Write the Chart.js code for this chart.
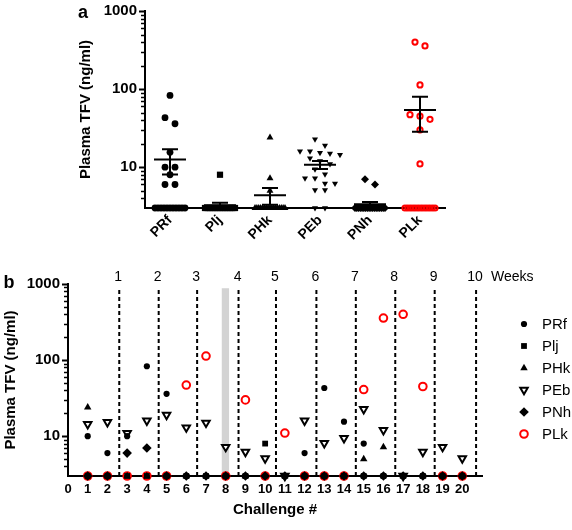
<!DOCTYPE html>
<html><head><meta charset="utf-8">
<script src="https://cdn.jsdelivr.net/npm/chart.js@4/dist/chart.umd.min.js"></script>
<style>
html,body{margin:0;padding:0;background:#fff;}
#wrap{position:relative;width:572px;height:530px;background:#fff;}
canvas{position:absolute;left:0;}
#ca{top:0;} #cb{top:250px;}
</style></head><body>
<div id="wrap"><canvas id="ca" width="572" height="250"></canvas><canvas id="cb" width="572" height="280"></canvas></div>
<script>
// ---------- data ----------
const animals = ['PRf', 'Plj', 'PHk', 'PEb', 'PNh', 'PLk'];
const challenges = [1,2,3,4,5,6,7,8,9,10,11,12,13,14,15,16,17,18,19,20];
const xTickLabels = [0,1,2,3,4,5,6,7,8,9,10,11,12,13,14,15,16,17,18,19,20];
const yTickLabels = [10, 100, 1000];
const weekLabels = ['1','2','3','4','5','6','7','8','9','10'];
const weekLinePos = [2.6, 4.6, 6.55, 8.65, 10.55, 12.6, 14.6, 16.6, 18.6, 20.7];
const LOQ = 3;      // below limit of quantitation plotted at axis
const PRf = [10, 6, 10, 83, 36, 3, 3, 3, 3, 3, 3, 6, 43, 15.5, 8, 3, 3, 3, 3, 3];
const Plj = [3, 3, 3, 3, 3, 3, 3, 3, 3, 8, 3, 3, 3, 3, 3, 3, 3, 3, 3, 3];
const PHk = [24, 3, 3, 3, 3, 3, 3, 3, 3, 3, 3, 3, 3, 3, 5, 7.2, 3, 3, 3, 3];
const PEb = [14.4, 15.3, 11, 16, 19, 13, 15, 7.2, 6.2, 5.1, 3, 16, 8.1, 9.4, 22.7, 12, 3, 6.2, 7.2, 5.1];
const PNh = [3, 3, 6, 7, 3, 3, 3, 3, 3, 3, 3, 3, 3, 3, 3, 3, 3, 3, 3, 3];
const PLk = [3, 3, 3, 3, 3, 47, 113, 3, 30, 3, 11, 3, 3, 3, 41, 357, 400, 45, 3, 3];
const seriesValues = [PRf, Plj, PHk, PEb, PNh, PLk];

// ---------- styles ----------
const FONT = 'Arial, "Liberation Sans", Helvetica, sans-serif';
Chart.defaults.font.family = FONT;
Chart.defaults.color = '#000';
const RED = '#ff0000';
const styleA = [
  {ps:'circle', r:3.4, rot:0, fill:'#000', stroke:'#000', bw:0},
  {ps:'rect', r:4.4, rot:0, fill:'#000', stroke:'#000', bw:0},
  {ps:'triangle', r:4.0, rot:0, fill:'#000', stroke:'#000', bw:0},
  {ps:'triangle', r:3.5, rot:180, fill:'#000', stroke:'#000', bw:0},
  {ps:'rectRot', r:4.0, rot:0, fill:'#000', stroke:'#000', bw:0},
  {ps:'circle', r:2.6, rot:0, fill:'rgba(0,0,0,0)', stroke:RED, bw:2}
];
const styleB = [
  {ps:'circle', r:3.1, rot:0, fill:'#000', stroke:'#000', bw:0},
  {ps:'rect', r:4.1, rot:0, fill:'#000', stroke:'#000', bw:0},
  {ps:'triangle', r:4.3, rot:0, fill:'#000', stroke:'#000', bw:0},
  {ps:'triangle', r:4.3, rot:180, fill:'#fff', stroke:'#000', bw:2},
  {ps:'rectRot', r:4.8, rot:0, fill:'#000', stroke:'#000', bw:0},
  {ps:'circle', r:3.8, rot:0, fill:'rgba(0,0,0,0)', stroke:RED, bw:2}
];
const drawOrderB = [2, 3, 4, 5, 1, 6]; // lower = on top

// ---------- helpers ----------
function meanSem(arr){
  const n = arr.length;
  const m = arr.reduce((a,b)=>a+b,0)/n;
  const sd = Math.sqrt(arr.reduce((a,b)=>a+(b-m)*(b-m),0)/(n-1));
  return {m, s: sd/Math.sqrt(n)};
}
// scatter-dot (column) layout for panel a
function swarm(values, idx){
  const pxPerDec = 78, rowTol = 6.5, step = 0.2;
  const lp = v => Math.log10(v)*pxPerDec;
  const det = values.filter(v => v > LOQ).sort((a,b)=>b-a);
  const low = values.filter(v => v <= LOQ);
  const pts = [];
  let row = [];
  const flush = () => { const n = row.length; row.forEach((v,k)=>pts.push({x: idx + (k-(n-1)/2)*step, y: v})); row = []; };
  det.forEach(v => { if (row.length && lp(row[0]) - lp(v) > rowTol) flush(); row.push(v); });
  flush();
  const n = low.length, sp = n > 1 ? Math.min(step, 0.6/(n-1)) : 0;
  low.forEach((v,k)=>pts.push({x: idx + (k-(n-1)/2)*sp, y: v}));
  return pts;
}
function logAxis(width, titleSize){
  return {
    type:'logarithmic', min:LOQ, max:1000,
    afterBuildTicks: s => { s.ticks = yTickLabels.map(v => ({value:v, major:true})); },
    ticks:{callback: v => String(v), font:{weight:'bold', size:15}, padding:2, color:'#000'},
    grid:{drawOnChartArea:false, drawTicks:true, tickLength:6, tickWidth:2, tickColor:'#000'},
    border:{display:true, color:'#000', width:2},
    title:{display:true, text:'Plasma TFV (ng/ml)', font:{weight:'bold', size:titleSize}, padding:0, color:'#000'},
    afterFit: s => { s.width = width; }
  };
}
function drawMinorTicks(chart){
  const {ctx, chartArea, scales:{y}} = chart;
  ctx.save(); ctx.strokeStyle = '#000'; ctx.lineWidth = 1.5;
  [1,10,100].forEach(d => { for (let k=2; k<=9; k++){ const v = k*d; if (v <= LOQ || v >= 1000) continue;
    const py = Math.round(y.getPixelForValue(v)) + 0.5;
    ctx.beginPath(); ctx.moveTo(chartArea.left - 4, py); ctx.lineTo(chartArea.left, py); ctx.stroke(); } });
  ctx.restore();
}

// ---------- panel a ----------
const dsA = animals.map((name,i) => {
  const st = styleA[i];
  return {label:name, data: swarm(seriesValues[i], i), pointStyle:st.ps, pointRotation:st.rot,
    pointRadius:st.r, pointHoverRadius:st.r, pointBackgroundColor:st.fill, pointBorderColor:st.stroke,
    pointBorderWidth:st.bw, showLine:false, clip:false};
});
const pluginA = {
  id:'panelA',
  afterDatasetsDraw(chart){
    const {ctx, scales:{x,y}} = chart;
    ctx.save(); ctx.strokeStyle = '#000'; ctx.lineWidth = 2;
    seriesValues.forEach((vals,i) => {
      const {m, s} = meanSem(vals);
      const cx = x.getPixelForValue(i);
      const ym = y.getPixelForValue(m), yt = y.getPixelForValue(m+s), yb = y.getPixelForValue(Math.max(m-s, 0.5));
      ctx.beginPath();
      ctx.moveTo(cx-16, ym); ctx.lineTo(cx+16, ym);
      ctx.moveTo(cx-8, yt); ctx.lineTo(cx+8, yt);
      ctx.moveTo(cx-8, yb); ctx.lineTo(cx+8, yb);
      ctx.moveTo(cx, yt); ctx.lineTo(cx, yb);
      ctx.stroke();
    });
    ctx.restore();
  },
  afterDraw(chart){
    drawMinorTicks(chart);
    const ctx = chart.ctx;
    ctx.save(); ctx.fillStyle = '#000'; ctx.font = 'bold 18px ' + FONT;
    ctx.textAlign = 'center'; ctx.textBaseline = 'middle';
    ctx.fillText('a', 83, 13);
    ctx.restore();
  }
};
new Chart(document.getElementById('ca'), {
  type:'scatter',
  data:{datasets: dsA},
  options:{
    responsive:false, animation:false, events:[],
    layout:{padding:{left:77, top:11, right:127, bottom:0}},
    plugins:{legend:{display:false}, tooltip:{enabled:false}},
    scales:{
      x:{type:'linear', min:-0.5, max:5.5,
        afterBuildTicks: s => { s.ticks = animals.map((_,i)=>({value:i})); },
        ticks:{callback:(v,i)=>animals[i], autoSkip:false, maxRotation:45, minRotation:45,
          font:{weight:'bold', size:14}, padding:4, color:'#000'},
        grid:{display:false, drawTicks:false},
        border:{display:true, color:'#000', width:2},
        afterFit: s => { s.height = 42; }
      },
      y: logAxis(68, 15)
    }
  },
  plugins:[pluginA]
});

// ---------- panel b ----------
const dsB = animals.map((name,i) => {
  const st = styleB[i];
  return {label:name, data: challenges.map((c,k)=>({x:c, y:seriesValues[i][k]})), order: drawOrderB[i],
    pointStyle:st.ps, pointRotation:st.rot, pointRadius:st.r, pointHoverRadius:st.r,
    pointBackgroundColor:st.fill, pointBorderColor:st.stroke, pointBorderWidth:st.bw, showLine:false, clip:false};
});
weekLinePos.forEach((p,i) => {
  dsB.push({label:'week'+weekLabels[i], type:'line', data:[{x:p, y:LOQ}, {x:p, y:880}], order:20,
    borderColor:'#000', borderWidth:2, borderDash:[4,3], pointRadius:0, clip:false, fill:false});
});
const pluginB = {
  id:'panelB',
  beforeDatasetsDraw(chart){
    const {ctx, scales:{x,y}} = chart;
    const x0 = x.getPixelForValue(7.8), x1 = x.getPixelForValue(8.17);
    const y0 = y.getPixelForValue(880), y1 = y.getPixelForValue(LOQ);
    ctx.save(); ctx.fillStyle = '#d3d3d3'; ctx.fillRect(x0, y0, x1-x0, y1-y0); ctx.restore();
  },
  afterDraw(chart){
    drawMinorTicks(chart);
    const {ctx, scales:{x}} = chart;
    ctx.save(); ctx.fillStyle = '#000';
    ctx.font = '14px ' + FONT; ctx.textAlign = 'center'; ctx.textBaseline = 'middle';
    weekLinePos.forEach((p,i) => ctx.fillText(weekLabels[i], x.getPixelForValue(p) - 1, 27));
    ctx.textAlign = 'left'; ctx.fillText('Weeks', 491, 27);
    ctx.font = 'bold 18px ' + FONT; ctx.textAlign = 'center';
    ctx.fillText('b', 9, 33);
    // legend
    ctx.font = '15px ' + FONT; ctx.textAlign = 'left';
    animals.forEach((name,i) => {
      const st = styleB[i], ly = 74 + 22*i;
      ctx.fillStyle = st.fill; ctx.strokeStyle = st.stroke; ctx.lineWidth = st.bw;
      Chart.helpers.drawPoint(ctx, {pointStyle:st.ps, radius:st.r, rotation:st.rot, borderWidth:st.bw}, 524, ly);
      ctx.fillStyle = '#000';
      ctx.fillText(name, 542, ly + 1);
    });
    ctx.restore();
  }
};
new Chart(document.getElementById('cb'), {
  type:'scatter',
  data:{datasets: dsB},
  options:{
    responsive:false, animation:false, events:[],
    layout:{padding:{left:2, top:34, right:90, bottom:0}},
    plugins:{legend:{display:false}, tooltip:{enabled:false}},
    scales:{
      x:{type:'linear', min:0, max:21,
        afterBuildTicks: s => { s.ticks = xTickLabels.map(v=>({value:v})); },
        ticks:{autoSkip:false, maxRotation:0, minRotation:0, font:{weight:'bold', size:13}, padding:6, color:'#000'},
        grid:{display:false, drawTicks:false},
        border:{display:true, color:'#000', width:2},
        title:{display:true, text:'Challenge #', font:{weight:'bold', size:15}, padding:{top:0, bottom:11}, color:'#000'},
        afterFit: s => { s.height = 54; }
      },
      y: logAxis(66, 15)
    }
  },
  plugins:[pluginB]
});
</script>
</body></html>
